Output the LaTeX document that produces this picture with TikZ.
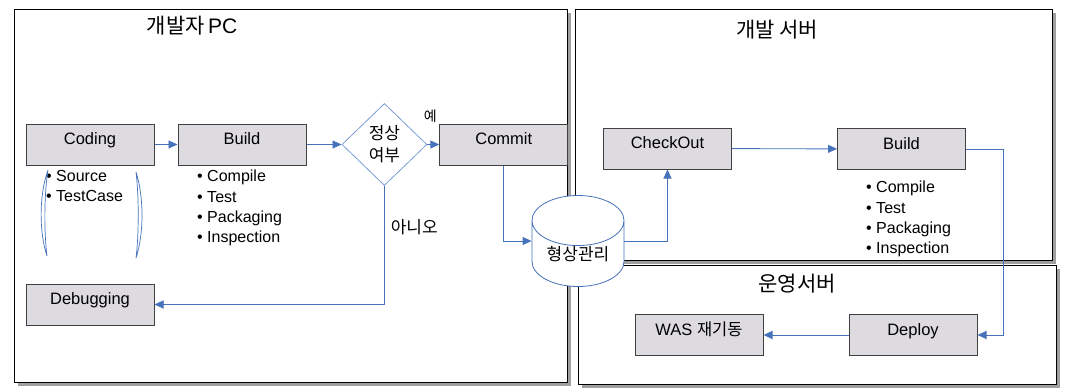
\documentclass[tikz,border=0pt]{standalone}
\usepackage{fontspec}
\setmainfont{Liberation Sans}
\newfontfamily\kr{Noto Sans CJK KR}
\usetikzlibrary{shapes.geometric,arrows.meta,positioning,shadows}
\definecolor{boxgray}{RGB}{221,219,224}
\definecolor{edgegray}{RGB}{64,64,64}
\definecolor{flowblue}{RGB}{70,114,186}
\definecolor{diablue}{RGB}{125,158,214}
\definecolor{shadegray}{RGB}{160,160,160}

\begin{document}
\begin{tikzpicture}[
  x=1pt, y=-1pt,
  >={Triangle[length=9pt, width=8pt]},
  panel/.style={rectangle, draw=black, fill=white, line width=1pt, inner sep=0pt,
                drop shadow={shadow xshift=3.5pt, shadow yshift=-3.5pt, fill=shadegray, opacity=1}},
  title/.style={inner sep=0pt, font=\fontsize{21}{24}\selectfont},
  task/.style={rectangle, draw=edgegray, fill=boxgray, line width=1pt,
               minimum width=128pt, minimum height=41pt, inner sep=0pt,
               text height=12pt, text depth=12pt, font=\fontsize{16.5}{19}\selectfont},
  check/.style={diamond, draw=diablue, fill=white, line width=0.8pt, inner sep=0pt,
                minimum width=85pt, minimum height=82pt, align=center,
                font=\fontsize{17}{22}\selectfont\kr},
  repo/.style={cylinder, shape border rotate=90, aspect=0.8, draw=flowblue, fill=white,
               line width=0.8pt, minimum width=92pt, minimum height=84pt, inner sep=0pt,
               font=\fontsize{17}{20}\selectfont\kr},
  items/.style={anchor=north west, align=left, inner sep=0pt, font=\fontsize{16}{20.3}\selectfont},
  flow/.style={->, draw=flowblue, line width=0.9pt},
  lbl/.style={inner sep=0pt, font=\fontsize{17}{20}\selectfont\kr},
  brace/.style={draw=flowblue, fill=white, line width=0.7pt},
]
\useasboundingbox (0,0) rectangle (1071,391);

% panels
\node[panel, minimum width=553pt, minimum height=373pt] (pc)  at (290.5,195.5) {};
\node[panel, minimum width=477pt, minimum height=251pt] (dev) at (813.5,134.5) {};
\node[panel, minimum width=478pt, minimum height=119pt] (ops) at (817,324.5) {};

\node[title] (pcname)  at (192,26)  {{\kr 개발자}\,PC};
\node[title] (devname) at (777,30)  {\kr 개발 서버};
\node[title] (opsname) at (797,284) {\kr 운영서버};

% developer PC
\node[task] (coding) at (90,144.5) {Coding};
\node[task, right=23pt of coding] (build) {Build};
\node[check, right=35pt of build] (dec) {정상\\여부};
\node[task, right=12pt of dec]    (commit) {Commit};
\node[task, below=118pt of coding] (debug) {Debugging};

\node[items] (codinglist) at (46,170) {• Source\\• TestCase};
\node[items] (buildlist)  at (197,170) {• Compile\\• Test\\• Packaging\\• Inspection};

\draw[brace] (48,170) .. controls (39,195) and (39,232) .. (47,256)
             .. controls (44,232) and (44,195) .. (48,170) -- cycle;
\draw[brace] (136,172) .. controls (144,197) and (144,234) .. (136,258)
             .. controls (139,234) and (139,197) .. (136,172) -- cycle;

% repository
\node[repo, anchor=shape center] (store) at (578,241) {형상관리};

% dev server
\node[task] (checkout) at (667.5,148.5) {CheckOut};
\node[task] (build2)   at (901.5,149)   {Build};
\node[items] (build2list) at (866,181) {• Compile\\• Test\\• Packaging\\• Inspection};

% ops server
\node[task] (deploy)  at (913,335) {Deploy};
\node[task] (restart) at (699,335) {WAS {\kr 재기동}};

% flow
\draw[flow] (coding) -- (build);
\draw[flow] (build) -- (dec);
\draw[flow] (dec) -- (commit) node[lbl, pos=1, anchor=south east, xshift=-2pt, yshift=21pt, font=\fontsize{14}{16}\selectfont\kr] {예};
\draw[flow] (dec) |- node[lbl, pos=0.175, right=6pt] {아니오} (debug);
\draw[flow] (commit) |- (store.shape center -| store.west);
\draw[flow] (store.shape center -| store.east) -| (checkout);
\draw[flow] (checkout) -- (build2);
\draw[flow] (build2.east) -- ++(37,0) |- (deploy);
\draw[flow] (deploy) -- (restart);

\end{tikzpicture}
\end{document}
